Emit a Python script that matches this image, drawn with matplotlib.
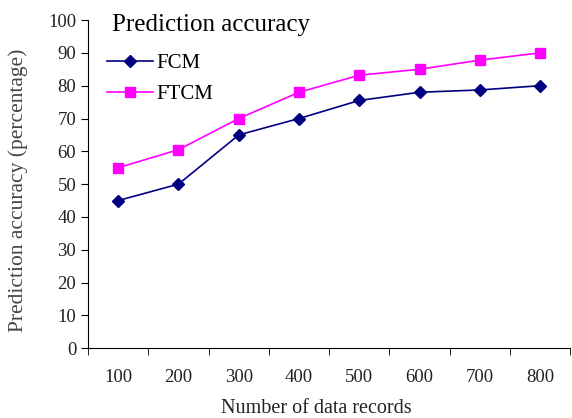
import numpy as np
import matplotlib
matplotlib.use("Agg")
import matplotlib.pyplot as plt

plt.rcParams['font.family'] = ['Liberation Serif', 'DejaVu Serif']

# データ
records = ['100', '200', '300', '400', '500', '600', '700', '800']
fcm = [45, 50, 65, 70, 75.5, 78, 78.7, 80]
ftcm = [55, 60.5, 70, 78, 83.2, 85, 87.8, 90]

x = np.arange(1, len(records) + 1)

fig = plt.figure(figsize=(5.72, 4.18), dpi=100)
ax = fig.add_axes([0.154, 0.167, 0.843, 0.785])

ax.plot(x, fcm, marker='D', markersize=6, color='#000080', linewidth=1.2,
        label='FCM')
ax.plot(x, ftcm, marker='s', markersize=7, color='#FF00FF', linewidth=1.2,
        label='FTCM')

ax.set_xlim(0.5, len(records) + 0.5)
ax.set_ylim(0, 100)
ax.set_yticks(range(0, 101, 10))

# カテゴリ軸（目盛りはカテゴリ間）
ax.set_xticks(x)
ax.set_xticklabels(records)
ax.set_xticks(np.arange(0.5, len(records) + 1, 1), minor=True)
ax.tick_params(axis='x', which='major', length=0, pad=15, labelsize=13.5,
               labelcolor='#222222')
ax.tick_params(axis='x', which='minor', length=5, direction='out')
ax.tick_params(axis='y', length=5, direction='out', labelsize=13.5,
               labelcolor='#222222')

for s in ['top', 'right']:
    ax.spines[s].set_visible(False)

ax.set_xlabel('Number of data records', fontsize=14.5, color='#222222')
ax.xaxis.set_label_coords(0.473, -0.155)
ax.set_ylabel('Prediction accuracy (percentage)', fontsize=15.5,
              color='#444444')
ax.yaxis.set_label_coords(-0.125, 0.48)

ax.text(0.05, 0.985, 'Prediction accuracy', transform=ax.transAxes,
        fontsize=18, va='center', ha='left')
ax.legend(loc='upper left', bbox_to_anchor=(0.0, 0.955), frameon=False,
          fontsize=15, handlelength=2.2, labelspacing=0.55, handletextpad=0.2)

fig.savefig('out.png', dpi=100)
